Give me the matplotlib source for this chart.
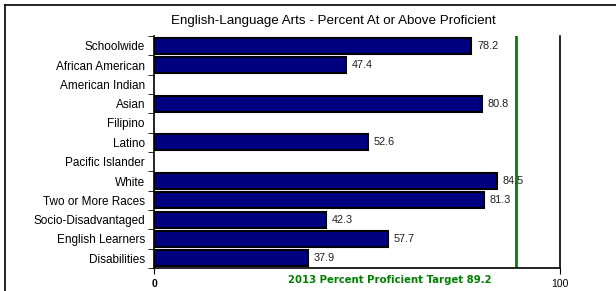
import matplotlib.pyplot as plt
from matplotlib.lines import Line2D
import numpy as np

plt.rcParams["font.family"] = ["Liberation Sans", "DejaVu Sans"]

# chart data
groups = ["Schoolwide", "African American", "American Indian", "Asian", "Filipino",
          "Latino", "Pacific Islander", "White", "Two or More Races",
          "Socio-Disadvantaged", "English Learners", "Disabilities"]
percents = [78.2, 47.4, None, 80.8, None, 52.6, None, 84.5, 81.3, 42.3, 57.7, 37.9]
target = 89.2
title = "English-Language Arts - Percent At or Above Proficient"
target_label = "2013 Percent Proficient Target 89.2"

fig = plt.figure(figsize=(6.16, 2.91), dpi=100)
W, H = 616, 291
ax = fig.add_axes([154 / W, 1 - 268 / H, (560 - 154) / W, (268 - 36) / H])

# outer frame (top and left visible, rest is cut off)
fig.add_artist(Line2D([5 / W, 1], [1 - 5 / H, 1 - 5 / H], color="black", lw=1.2))
fig.add_artist(Line2D([5 / W, 5 / W], [0, 1 - 5 / H], color="black", lw=1.2))

n = len(groups)
ypos = np.arange(n)
for y, v in zip(ypos, percents):
    if v is None:
        continue
    ax.barh(y, v, height=0.82, color="#000080", edgecolor="black", linewidth=1.5)
    ax.text(v + 1.4, y, f"{v:.1f}", va="center", ha="left", fontsize=7.8, color="#202020")

ax.axvline(target, color="#008000", lw=2)

ax.set_xlim(0, 100)
ax.set_ylim(n - 0.5, -0.5)
ax.set_yticks(ypos)
ax.set_yticklabels(groups, fontsize=8.5)
ax.tick_params(axis="y", length=0, pad=6.5)
# boundary ticks on left
ax.set_yticks(np.arange(n + 1) - 0.5, minor=True)
ax.tick_params(axis="y", which="minor", length=4, direction="out")
ax.set_xticks([0, 100])
ax.set_xticklabels(["0", "100"], fontsize=7.5)
ax.get_xticklabels()[0].set_fontweight("bold")
ax.tick_params(axis="x", length=4, direction="out", pad=4)

ax.spines["top"].set_visible(False)
for s in ["left", "right", "bottom"]:
    ax.spines[s].set_linewidth(1.2)

fig.text(333 / W, 1 - 21 / H, title, fontsize=9.6, ha="center", va="center")
fig.text(390 / W, 1 - 280 / H, target_label, color="#008000", fontsize=7.3,
         fontweight="bold", ha="center", va="center", family="DejaVu Sans")

fig.savefig("out.png", dpi=100)
